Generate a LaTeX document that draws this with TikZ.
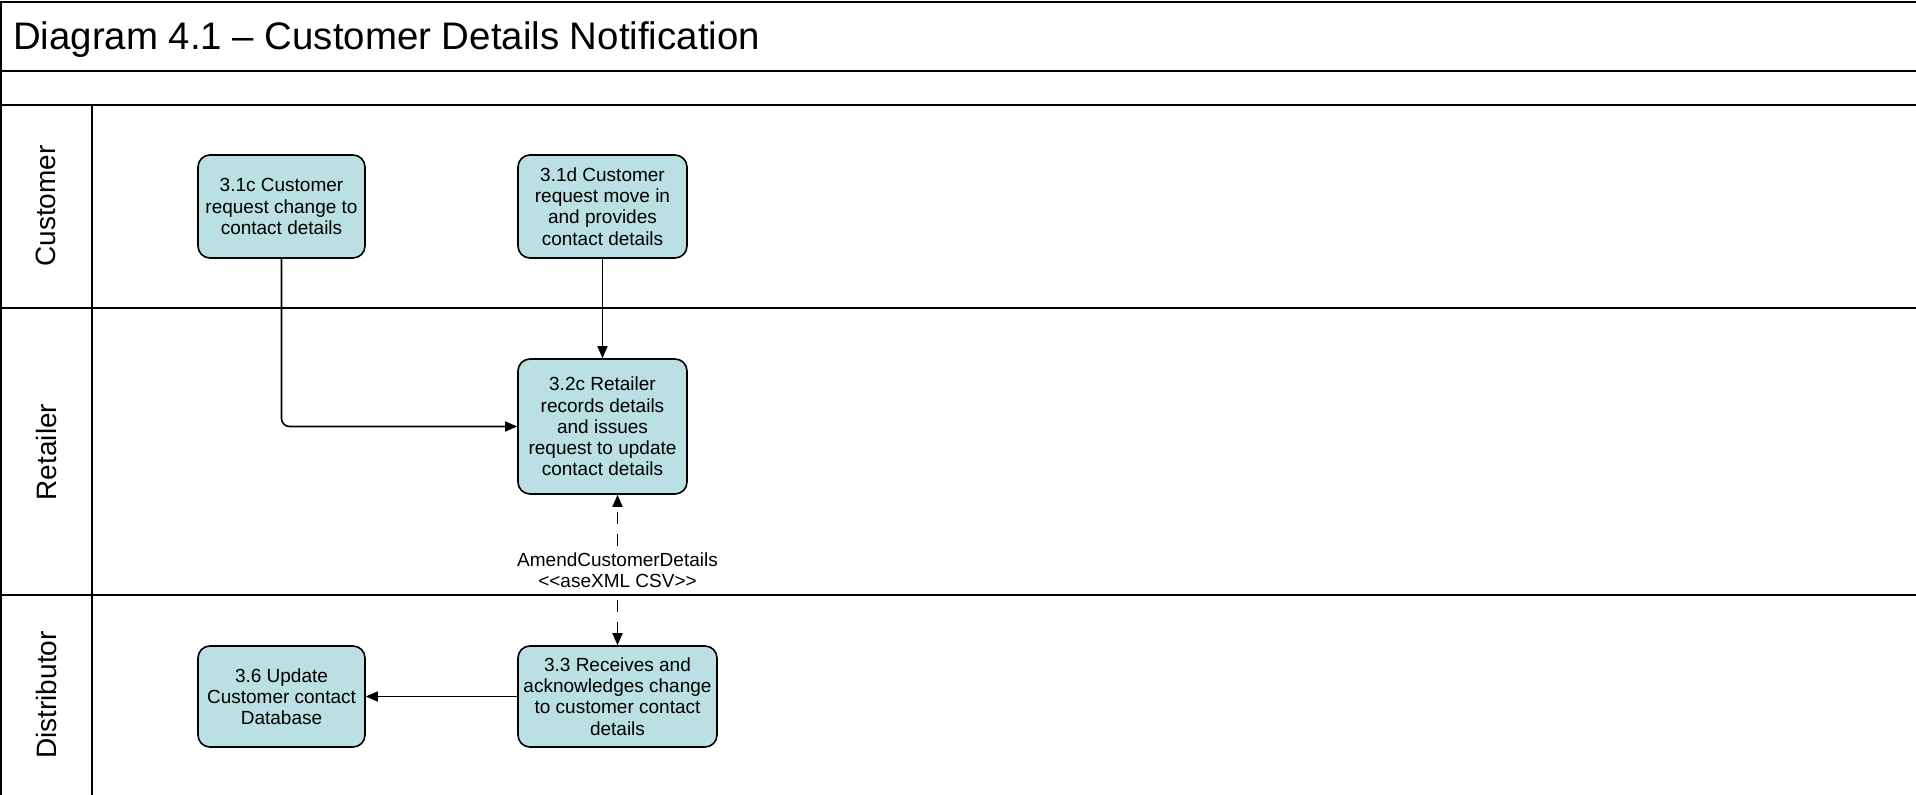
\documentclass[tikz,border=0pt]{standalone}
\usepackage{fontspec}
\setmainfont{Liberation Sans}
\usepackage{tikz}
\usetikzlibrary{arrows.meta,positioning}

\definecolor{procfill}{HTML}{BAE0E3}

\begin{document}
\begin{tikzpicture}[x=0.5pt, y=-0.5pt,
            proc/.style={rectangle, rounded corners=6pt, draw=black, line width=0.8pt,
                fill=procfill, align=center, inner sep=1pt,
                font=\fontsize{9.5}{10.6}\selectfont},
            lanename/.style={rotate=90, font=\fontsize{14}{16}\selectfont},
            grid/.style={line width=1pt},
            flow/.style={line width=0.8pt, -{Triangle[length=6pt,width=5pt]}},
            msg/.style={line width=0.8pt, dash pattern=on 6pt off 5pt,
                {Triangle[length=6pt,width=5pt]}-{Triangle[length=6pt,width=5pt]}}]
            \useasboundingbox (0,0) rectangle (1916,795);
            % frame and swimlanes
            \draw[grid] (1916,2) -- (1,2) -- (1,795);
            \draw[grid] (1,71) -- (1916,71);
            \draw[grid] (1,105) -- (1916,105);
            \draw[grid] (1,308) -- (1916,308);
            \draw[grid] (1,595) -- (1916,595);
            \draw[grid] (92,105) -- (92,795);
            \node[anchor=west, font=\fontsize{19.2}{22}\selectfont] (title) at (6,40)
                {Diagram 4.1 – Customer Details Notification};
            \node[lanename] (customer)    at (46,206) {Customer};
            \node[lanename] (retailer)    at (46,452) {Retailer};
            \node[lanename] (distributor) at (46,695) {Distributor};
            % steps
            \node[proc, minimum width=83.5pt, minimum height=51.5pt] (c1) at (281.5,206.5)
                {3.1c Customer\\request change to\\contact details};
            \node[proc, minimum width=84.5pt, minimum height=51.5pt] (c2) at (602.5,206.5)
                {3.1d Customer\\request move in\\and provides\\contact details};
            \node[proc, minimum width=84.5pt, minimum height=67.5pt] (r1) at (602.5,426.5)
                {3.2c Retailer\\records details\\and issues\\request to update\\contact details};
            \node[proc, minimum width=99.5pt, minimum height=50.5pt] (d1) at (617.5,696.5)
                {3.3 Receives and\\acknowledges change\\to customer contact\\details};
            \node[proc, minimum width=83.5pt, minimum height=50.5pt] (d2) at (281.5,696.5)
                {3.6 Update\\Customer contact\\Database};
            % connectors
            \draw[flow, rounded corners=4pt] (c1.south) |- (r1.west);
            \draw[flow] (c2.south) -- (r1.north);
            \draw[flow] (d1.west) -- (d2.east);
            \draw[msg] (d1.north) -- (d1.north |- r1.south)
                node[midway, fill=white, inner sep=1pt, align=center,
                     font=\fontsize{9.5}{10.6}\selectfont] (amend)
                {AmendCustomerDetails\\{<}{<}aseXML CSV{>}{>}};
\end{tikzpicture}
\end{document}
